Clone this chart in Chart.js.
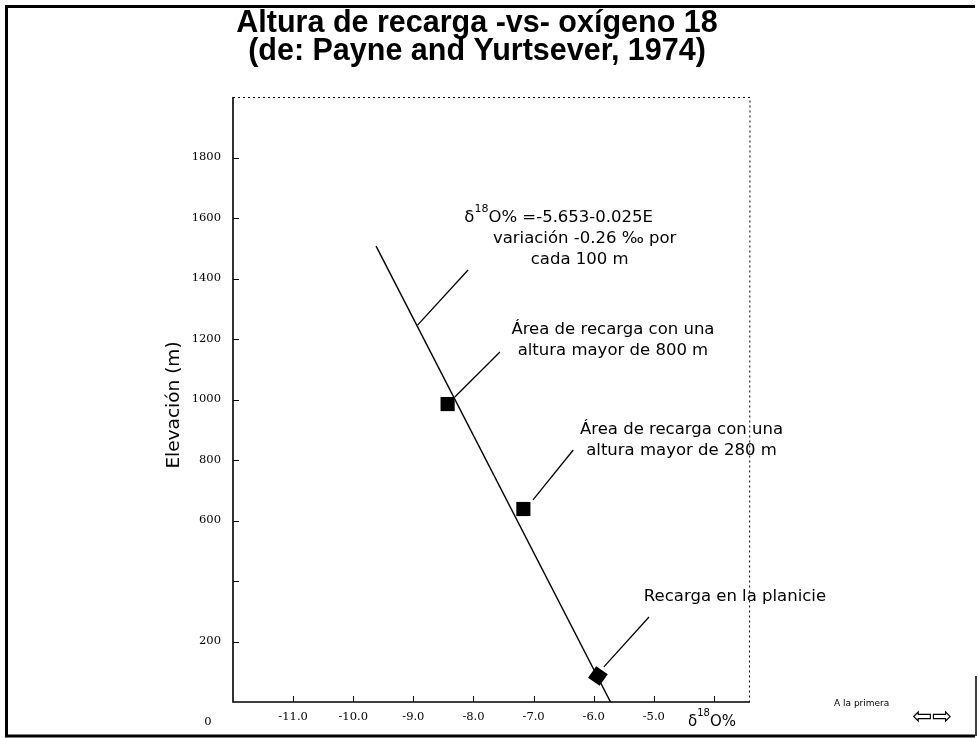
<!DOCTYPE html>
<html>
<head>
<meta charset="utf-8">
<script src="https://cdn.jsdelivr.net/npm/chart.js@4.4.1/dist/chart.umd.min.js"></script>
<style>
html,body{margin:0;padding:0;background:#fff;}
#wrap{width:979px;height:738px;}
</style>
</head>
<body>
<div id="wrap"><canvas id="c" width="979" height="738"></canvas></div>
<script>
// ---- data ----
const lineX = [-9.62, -5.72];          // δ18O at the ends of the regression line
const lineY = [1507, 0];               // elevation (m) at the ends
const sampleX = [-8.43, -7.17, -5.93]; // δ18O of the three recharge areas
const sampleY = [985, 638, 86];        // elevation (m)
const xTickValues = [-11, -10, -9, -8, -7, -6, -5];
const xTickLabels = ['-11.0', '-10.0', '-9.0', '-8.0', '-7.0', '-6.0', '-5.0'];
const yTickValues = [200, 600, 800, 1000, 1200, 1400, 1600, 1800];
const yTickLabels = ['200', '600', '800', '1000', '1200', '1400', '1600', '1800'];
const titleLines = ['Altura de recarga -vs- oxígeno 18', '(de: Payne and Yurtsever, 1974)'];
const yTitle = 'Elevación (m)';

// annotations (leader lines and labels, in data units)
const leaders = [
  [[-8.93, 1246], [-8.09, 1428]],
  [[-8.31, 1008], [-7.56, 1157]],
  [[-7.01, 668], [-6.34, 833]],
  [[-5.83, 116], [-5.08, 281]]
];
const notes = [
  {x: -6.30, y: 1600, lines: [
    {dx: -17, parts: [['δ',0],['18',1],['O% =-5.653-0.025E',0]]},
    {dx: 9, parts: [['variación -0.26 ‰ por',0]]},
    {dx: 4, parts: [['cada 100 m',0]]}]},
  {x: -5.68, y: 1230, lines: [
    {dx: 0, parts: [['Área de recarga con una',0]]},
    {dx: 0, parts: [['altura mayor de 800 m',0]]}]},
  {x: -4.54, y: 899, lines: [
    {dx: 0, parts: [['Área de recarga con una',0]]},
    {dx: 0, parts: [['altura mayor de 280 m',0]]}]},
  {x: -3.65, y: 347, lines: [
    {dx: 0, parts: [['Recarga en la planicie',0]]}]}
];

const NOTE_FONT = "16.5px 'DejaVu Sans'";
const NOTE_SUP = "11px 'DejaVu Sans'";

function drawRich(ctx, parts, cx, cy, font, supFont) {
  let w = 0;
  parts.forEach(p => { ctx.font = p[1] ? supFont : font; w += ctx.measureText(p[0]).width; });
  let x = cx - w / 2;
  ctx.textBaseline = 'middle';
  ctx.textAlign = 'left';
  parts.forEach(p => {
    ctx.font = p[1] ? supFont : font;
    ctx.fillText(p[0], x, p[1] ? cy - 9 : cy);
    x += ctx.measureText(p[0]).width;
  });
}

const decor = {
  id: 'decor',
  afterDraw(chart) {
    const ctx = chart.ctx;
    const xs = chart.scales.x, ys = chart.scales.y;
    const a = chart.chartArea;
    ctx.save();
    ctx.fillStyle = '#000';
    ctx.strokeStyle = '#000';

    // page frame
    ctx.lineWidth = 3;
    ctx.beginPath();
    ctx.moveTo(975, 6.5); ctx.lineTo(6.5, 6.5); ctx.lineTo(6.5, 736); ctx.lineTo(975, 736);
    ctx.stroke();
    ctx.lineWidth = 1.5;
    ctx.beginPath(); ctx.moveTo(976, 676); ctx.lineTo(976, 736); ctx.stroke();

    // title
    ctx.font = "bold 30.5px 'Liberation Sans'";
    ctx.textAlign = 'center';
    ctx.textBaseline = 'middle';
    ctx.fillText(titleLines[0], 477, 24);
    ctx.fillText(titleLines[1], 477, 52);

    // plot box: left & bottom solid, top & right dotted
    ctx.lineWidth = 1.6;
    ctx.beginPath();
    ctx.moveTo(a.left, a.top); ctx.lineTo(a.left, a.bottom); ctx.lineTo(a.right, a.bottom);
    ctx.stroke();
    ctx.lineWidth = 1;
    ctx.setLineDash([2, 3]);
    ctx.beginPath();
    ctx.moveTo(a.left, a.top + 0.5); ctx.lineTo(a.right, a.top + 0.5); ctx.lineTo(a.right - 0.5, a.bottom);
    ctx.stroke();
    ctx.setLineDash([]);

    // inward tick marks
    ctx.lineWidth = 1;
    for (let v = 200; v <= 1800; v += 200) {
      const y = Math.round(ys.getPixelForValue(v)) + 0.5;
      ctx.beginPath(); ctx.moveTo(a.left, y); ctx.lineTo(a.left + 6, y); ctx.stroke();
    }
    for (let v = -11; v <= -4; v += 1) {
      const x = Math.round(xs.getPixelForValue(v)) + 0.5;
      ctx.beginPath(); ctx.moveTo(x, a.bottom); ctx.lineTo(x, a.bottom - 6); ctx.stroke();
    }

    // y-axis title
    ctx.save();
    ctx.translate(174, 405);
    ctx.rotate(-Math.PI / 2);
    ctx.font = "18.5px 'DejaVu Sans'";
    ctx.textAlign = 'center';
    ctx.textBaseline = 'middle';
    ctx.fillText(yTitle, 0, 0);
    ctx.restore();

    // stray axis labels
    ctx.font = "11.5px 'DejaVu Serif'";
    ctx.textAlign = 'center';
    ctx.textBaseline = 'middle';
    ctx.fillText('0', 208, 722);
    drawRich(ctx, [['δ',0],['18',1],['O%',0]], 712, 722, "15px 'DejaVu Sans'", "10px 'DejaVu Sans'");

    // leader lines
    ctx.lineWidth = 1.3;
    leaders.forEach(l => {
      ctx.beginPath();
      ctx.moveTo(xs.getPixelForValue(l[0][0]), ys.getPixelForValue(l[0][1]));
      ctx.lineTo(xs.getPixelForValue(l[1][0]), ys.getPixelForValue(l[1][1]));
      ctx.stroke();
    });

    // notes
    notes.forEach(n => {
      const cx = xs.getPixelForValue(n.x);
      const cy = ys.getPixelForValue(n.y);
      n.lines.forEach((ln, i) => drawRich(ctx, ln.parts, cx + ln.dx, cy + i * 21, NOTE_FONT, NOTE_SUP));
    });

    // bottom-right navigation
    ctx.font = "9px 'DejaVu Sans'";
    ctx.textAlign = 'left';
    ctx.fillText('A la primera', 834, 704);
    ctx.font = "24px 'DejaVu Sans'";
    ctx.fillText('⇦⇨', 912, 718);
    ctx.restore();
  }
};

new Chart(document.getElementById('c'), {
  type: 'scatter',
  data: {
    datasets: [
      {
        data: lineX.map((x, i) => ({x, y: lineY[i]})),
        showLine: true,
        borderColor: '#000',
        borderWidth: 1.4,
        pointRadius: 0
      },
      {
        data: sampleX.map((x, i) => ({x, y: sampleY[i]})),
        pointStyle: 'rect',
        pointRadius: 10,
        pointRotation: [0, 0, 35],
        backgroundColor: '#000',
        borderColor: '#000',
        borderWidth: 0
      }
    ]
  },
  options: {
    responsive: false,
    animation: false,
    layout: {padding: {top: 97, right: 229, left: 0, bottom: 0}},
    plugins: {legend: {display: false}, tooltip: {enabled: false}, title: {display: false}},
    scales: {
      x: {
        type: 'linear', min: -12, max: -3.4,
        afterFit(s) { s.height = 36; },
        afterBuildTicks(s) { s.ticks = xTickValues.map(v => ({value: v})); },
        grid: {display: false, drawTicks: false},
        border: {display: false},
        ticks: {
          color: '#000', padding: 8, maxRotation: 0, autoSkip: false,
          font: {family: 'DejaVu Serif', size: 11.5},
          callback: (v) => { const i = xTickValues.indexOf(v); return i >= 0 ? xTickLabels[i] : ''; }
        }
      },
      y: {
        type: 'linear', min: 0, max: 2000,
        afterFit(s) { s.width = 233; },
        afterBuildTicks(s) { s.ticks = yTickValues.map(v => ({value: v})); },
        grid: {display: false, drawTicks: false},
        border: {display: false},
        ticks: {
          color: '#000', padding: 12, autoSkip: false,
          font: {family: 'DejaVu Serif', size: 11.5},
          callback: (v) => { const i = yTickValues.indexOf(v); return i >= 0 ? yTickLabels[i] : ''; }
        }
      }
    }
  },
  plugins: [decor]
});
</script>
</body>
</html>
